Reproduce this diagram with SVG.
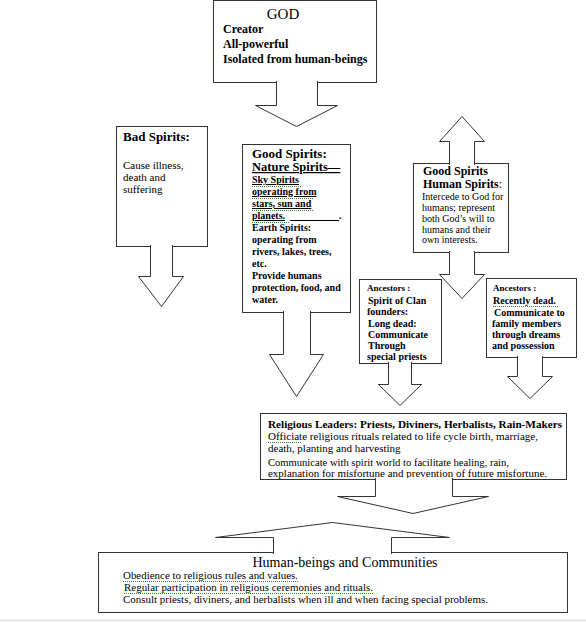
<svg xmlns="http://www.w3.org/2000/svg" width="586" height="623" viewBox="0 0 586 623">
<style>
  text { font-family: "Liberation Serif", "Times New Roman", serif; fill: #000; }
  .box { fill: #fff; stroke: #333; stroke-width: 1; }
  .arr { fill: #fff; stroke: #333; stroke-width: 1; stroke-linejoin: miter; }
  .b { font-weight: bold; }
  .u { text-decoration: underline; }
  .sq { stroke: #2e8b2e; stroke-width: 1; stroke-dasharray: 1 1; fill: none; }
  .ul { stroke: #000; stroke-width: 1; }
</style>
<rect width="586" height="623" fill="#fff"/>
<line x1="0" y1="620.5" x2="586" y2="620.5" stroke="#e4e4e4" stroke-width="2"/>

<g id="god">
  <rect class="box" x="213.5" y="0.5" width="163" height="82"/>
  <text x="283" y="19" font-size="15" text-anchor="middle">GOD</text>
  <text class="b" x="223" y="33" font-size="12">Creator</text>
  <text class="b" x="223" y="48" font-size="12">All-powerful</text>
  <text class="b" x="223" y="63" font-size="12">Isolated from human-beings</text>
</g>

<g id="bad-spirits">
  <rect class="box" x="116.5" y="126.5" width="91" height="120"/>
  <text class="b" x="123" y="141" font-size="13">Bad Spirits:</text>
  <text x="123" y="169" font-size="11">Cause illness,</text>
  <text x="123" y="181" font-size="11">death and</text>
  <text x="123" y="193" font-size="11">suffering</text>
</g>

<g id="nature-spirits">
  <rect class="box" x="242.5" y="144.5" width="108" height="168"/>
  <text class="b" x="252" y="158" font-size="13">Good Spirits:</text>
  <text class="b u" x="252" y="171" font-size="12.5">Nature Spirits—</text>
  <text class="b u" x="252" y="183" font-size="10">Sky Spirits</text>
  <text class="b u" x="252" y="195" font-size="10">operating from</text>
  <text class="b u" x="252" y="207" font-size="10">stars, sun and</text>
  <text class="b u" x="252" y="219" font-size="10">planets.</text>
  <line class="ul" x1="290" y1="220.5" x2="339" y2="220.5"/>
  <text class="b" x="339" y="219" font-size="10">.</text>
  <path class="sq" d="M252,186.5 H302 M252,198.5 H314 M252,210.5 H313 M252,222.5 H290"/>
  <text class="b" x="252" y="231" font-size="10">Earth Spirits:</text>
  <text class="b" x="252" y="243" font-size="10">operating from</text>
  <text class="b" x="252" y="255" font-size="10">rivers, lakes, trees,</text>
  <text class="b" x="252" y="267" font-size="10">etc.</text>
  <text class="b" x="252" y="279" font-size="10">Provide humans</text>
  <text class="b" x="252" y="291" font-size="10">protection, food, and</text>
  <text class="b" x="252" y="303" font-size="10">water.</text>
</g>

<g id="human-spirits">
  <rect class="box" x="413.5" y="163.5" width="95" height="89"/>
  <text class="b" x="423" y="175" font-size="12">Good Spirits</text>
  <text x="423" y="188" font-size="12"><tspan class="b">Human Spirits</tspan>:</text>
  <text x="422" y="200" font-size="10">Intercede to  God for</text>
  <text x="422" y="211" font-size="10">humans; represent</text>
  <text x="422" y="222" font-size="10">both God’s will to</text>
  <text x="422" y="233" font-size="10">humans and their</text>
  <text x="422" y="243" font-size="10">own interests.</text>
</g>

<g id="ancestors-clan">
  <rect class="box" x="359.5" y="279.5" width="82" height="84"/>
  <text class="b" x="367" y="291" font-size="9">Ancestors :</text>
  <text class="b" x="368" y="304" font-size="10">Spirit of  Clan</text>
  <text class="b" x="367" y="315" font-size="10">founders:</text>
  <text class="b" x="368" y="327" font-size="10">Long dead:</text>
  <text class="b" x="368" y="338" font-size="10">Communicate</text>
  <text class="b" x="368" y="349" font-size="10">Through</text>
  <text class="b" x="367" y="360" font-size="10">special priests</text>
</g>

<g id="ancestors-recent">
  <rect class="box" x="486.5" y="278.5" width="90" height="79"/>
  <text class="b" x="493" y="291" font-size="9">Ancestors :</text>
  <text class="b" x="493" y="304" font-size="10">Recently dead.</text>
  <path class="sq" d="M493,306.5 H558"/>
  <text class="b" x="494" y="316" font-size="10">Communicate to</text>
  <text class="b" x="492" y="327" font-size="10">family members</text>
  <text class="b" x="492" y="338" font-size="10">through dreams</text>
  <text class="b" x="492" y="349" font-size="10">and possession</text>
</g>

<g id="religious-leaders">
  <rect class="box" x="260.5" y="413.5" width="306" height="66"/>
  <text class="b" x="268" y="428" font-size="11.2" textLength="294" lengthAdjust="spacingAndGlyphs">Religious Leaders: Priests, Diviners, Herbalists, Rain-Makers</text>
  <text x="268" y="440" font-size="11" textLength="270" lengthAdjust="spacingAndGlyphs">Officiate religious rituals related to life cycle birth, marriage,</text>
  <path class="sq" d="M268,442.5 H302"/>
  <text x="268" y="452" font-size="11">death, planting and harvesting</text>
  <text x="268" y="466" font-size="11" textLength="241" lengthAdjust="spacingAndGlyphs">Communicate with spirit world to facilitate healing, rain,</text>
  <text x="268" y="477" font-size="11" textLength="279" lengthAdjust="spacingAndGlyphs">explanation for misfortune and prevention of future misfortune.</text>
</g>

<g id="human-beings">
  <rect class="box" x="98.5" y="552.5" width="469" height="60"/>
  <text x="345" y="567" font-size="14" text-anchor="middle">Human-beings and Communities</text>
  <text x="123" y="579" font-size="10.5" textLength="175" lengthAdjust="spacingAndGlyphs">Obedience to religious rules and values.</text>
  <path class="sq" d="M123,581.5 H298"/>
  <text x="124" y="591" font-size="10.5" textLength="249" lengthAdjust="spacingAndGlyphs">Regular participation in religious ceremonies and rituals.</text>
  <path class="sq" d="M124,593.5 H373"/>
  <text x="123" y="603" font-size="10.5" textLength="365" lengthAdjust="spacingAndGlyphs">Consult priests, diviners, and herbalists when ill and when facing special problems.</text>
</g>

<g id="connectors">
  <path class="arr" d="M276.5,81 V105.5 H255.5 L296.5,126.5 L337.5,105.5 H317.5 V81"/>
  <path class="arr" d="M150.5,245 V276.5 H138.5 L161.5,306.5 L183.5,276.5 H172.5 V245"/>
  <path class="arr" d="M283.5,311 V354.5 H269.5 L296.5,396.5 L323.5,354.5 H310.5 V311"/>
  <path class="arr" d="M449.5,165 V141.5 H439.5 L462,116.5 L484.5,141.5 H474.5 V165"/>
  <path class="arr" d="M449.5,251 V274.5 H439.5 L462,298.5 L484.5,274.5 H474.5 V251"/>
  <path class="arr" d="M388.5,362 V384.5 H378.5 L400,405.5 L421.5,384.5 H411.5 V362"/>
  <path class="arr" d="M517.5,356 V376.5 H507.5 L530,398.5 L552.5,376.5 H542.5 V356"/>
  <path class="arr" d="M375.5,478 V496.5 H337.5 L413,513.5 L488.5,496.5 H452.5 V478"/>
  <path class="arr" d="M273.5,554 V537.5 H215.5 L332.5,522.5 L449.5,537.5 H391.5 V554"/>
</g>
</svg>
